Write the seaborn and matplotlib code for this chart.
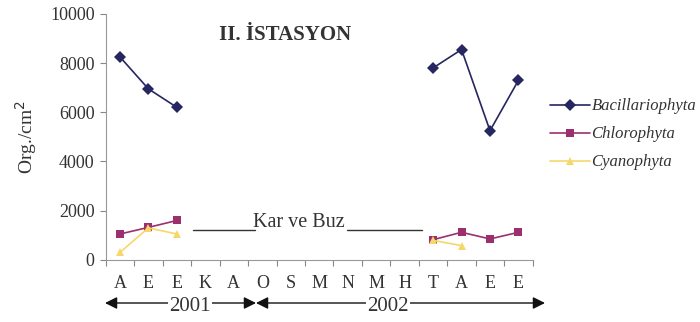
import numpy as np
import pandas as pd
import matplotlib
matplotlib.use("Agg")
import matplotlib.pyplot as plt
import seaborn as sns

months = ["A", "E", "E", "K", "A", "O", "S", "M", "N", "M", "H", "T", "A", "E", "E"]
bacillariophyta = [8250, 6950, 6200, np.nan, np.nan, np.nan, np.nan, np.nan, np.nan, np.nan, np.nan, 7800, 8550, 5250, 7300]
chlorophyta = [1050, 1320, 1600, np.nan, np.nan, np.nan, np.nan, np.nan, np.nan, np.nan, np.nan, 820, 1120, 850, 1120]
cyanophyta = [300, 1300, 1050, np.nan, np.nan, np.nan, np.nan, np.nan, np.nan, np.nan, np.nan, 790, 580, np.nan, np.nan]
series_names = ["Bacillariophyta", "Chlorophyta", "Cyanophyta"]
years = ["2001", "2002"]

sns.set_style("white")
plt.rcParams["font.family"] = ["Liberation Serif", "DejaVu Serif"]

rows = []
for name, vals in zip(series_names, [bacillariophyta, chlorophyta, cyanophyta]):
    seg = 0
    prev_nan = True
    for i, v in enumerate(vals):
        if np.isnan(v):
            prev_nan = True
            continue
        if prev_nan:
            seg += 1
            prev_nan = False
        rows.append({"x": i, "value": v, "series": name, "seg": f"{name}{seg}"})
df = pd.DataFrame(rows)

colors = {"Bacillariophyta": "#262660", "Chlorophyta": "#9c2f6e", "Cyanophyta": "#f6d86a"}
markers = {"Bacillariophyta": "D", "Chlorophyta": "s", "Cyanophyta": "^"}

fig = plt.figure(figsize=(7, 3.22), dpi=100)
ax = fig.add_axes([0.151, 0.193, 0.61, 0.764])

sns.lineplot(data=df, x="x", y="value", hue="series", style="series", units="seg",
             estimator=None, palette=colors, markers=markers, dashes=False,
             markersize=6, markeredgewidth=0, linewidth=1.2, ax=ax, sort=False)

ax.set_xlim(-0.5, len(months) - 0.5)
ax.set_ylim(0, 10000)
ax.set_yticks(np.arange(0, 10001, 2000))
ax.set_xticks(np.arange(-0.5, len(months), 1.0))
ax.set_xticklabels([])
ax.set_xticks(np.arange(len(months)), minor=True)
ax.set_xticklabels(months, minor=True)
ax.tick_params(axis="x", which="major", length=4, color="#888888", direction="out")
ax.tick_params(axis="x", which="minor", length=0, pad=11, labelsize=13, labelcolor="#333333")
ax.tick_params(axis="y", length=4, color="#888888", direction="out", labelsize=13,
               labelcolor="#333333", pad=4)
ax.tick_params(axis="both", which="both", bottom=True, left=True)
for s in ["top", "right"]:
    ax.spines[s].set_visible(False)
for s in ["left", "bottom"]:
    ax.spines[s].set_color("#999999")
    ax.spines[s].set_linewidth(0.8)
ax.set_xlabel("")
ax.set_ylabel("Org./cm$^2$", fontsize=14, color="#333333", labelpad=8)

ax.set_title("II. İSTASYON", fontsize=15, fontweight="bold", color="#333333", x=0.42, y=0.86)

# Kar ve Buz annotation
ax.text(6.3, 1150, "Kar ve Buz", ha="center", va="bottom", fontsize=14.5, color="#333333")
ax.plot([2.56, 4.74], [1200, 1200], color="#333333", lw=1.0)
ax.plot([7.96, 10.6], [1200, 1200], color="#333333", lw=1.0)

handles, labels = ax.get_legend_handles_labels()
ax.legend(handles, labels, loc="center left", bbox_to_anchor=(1.005, 0.51), frameon=False,
          prop={"family": "Liberation Serif", "style": "italic", "size": 12},
          handlelength=2.4, handletextpad=0.1, labelspacing=0.72, labelcolor="#333333")

# Year arrows
arrow_kw = dict(arrowstyle="<|-|>", color="#111111", lw=1.0, mutation_scale=18, shrinkA=0, shrinkB=0)
yy = 1 - 303 / 322
fig.add_artist(matplotlib.patches.FancyArrowPatch((105 / 700, yy), (256 / 700, yy),
                                                  transform=fig.transFigure, **arrow_kw))
fig.add_artist(matplotlib.patches.FancyArrowPatch((256 / 700, yy), (545 / 700, yy),
                                                  transform=fig.transFigure, **arrow_kw))
fig.text(190 / 700, yy - 0.01, years[0], ha="center", va="center", fontsize=15, color="#333333",
         bbox=dict(facecolor="white", edgecolor="none", pad=1))
fig.text(388 / 700, yy - 0.01, years[1], ha="center", va="center", fontsize=15, color="#333333",
         bbox=dict(facecolor="white", edgecolor="none", pad=1))

fig.savefig("out.png", dpi=100)
